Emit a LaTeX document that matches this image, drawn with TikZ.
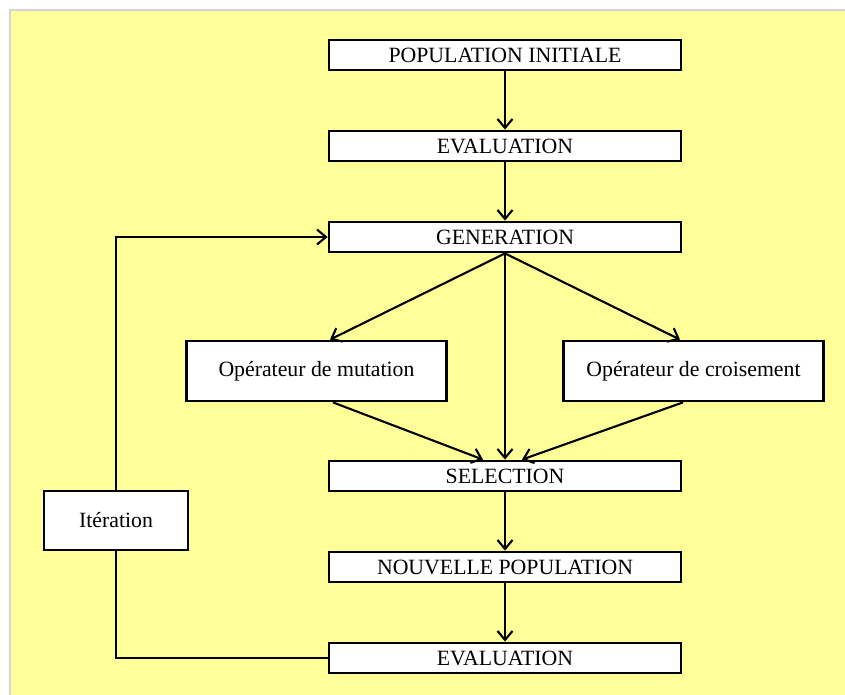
\documentclass[tikz,border=0pt]{standalone}
\usepackage{fontspec}
\setmainfont{Liberation Serif}
\usepackage{xcolor}
\usetikzlibrary{arrows.meta,positioning}
\definecolor{fondjaune}{HTML}{FFFF99}
\definecolor{cadregris}{HTML}{D4D4D8}

\begin{document}
\begin{tikzpicture}[x=0.02cm,y=-0.02cm,
  etape/.style={draw,line width=1.6pt,fill=white,minimum width=7.04cm,minimum height=0.6cm,
                inner sep=0pt,font=\fontsize{12.4}{14}\selectfont},
  oper/.style={etape,minimum width=5.2cm,minimum height=1.2cm},
  iter/.style={etape,minimum width=2.88cm,minimum height=1.18cm},
  ar/.style={-{Straight Barb[length=1.8mm,width=3mm,line width=1.2pt]},line width=1.2pt},
  trait/.style={line width=1.2pt}
]
% fond et cadre
\useasboundingbox (0,0) rectangle (845,695);
\fill[white] (0,0) rectangle (845,695);
\fill[cadregris] (9,9) rectangle (845,695);
\fill[fondjaune] (11,11) rectangle (845,695);
% colonne principale
\node[etape] (popinit) at (505,55) {POPULATION INITIALE};
\node[etape] (eval1) at (505,146) {EVALUATION};
\node[etape] (gen) at (505,237) {GENERATION};
\node[oper] (mut) at (316.5,371) {Opérateur de mutation};
\node[oper] (crois) at (693.5,371) {Opérateur de croisement};
\node[etape] (sel) at (505,476) {SELECTION};
\node[etape] (nouv) at (505,567) {NOUVELLE POPULATION};
\node[etape] (eval2) at (505,658) {EVALUATION};
\node[iter] (iter) at (116,520.5) {Itération};
\draw[ar] (popinit) -- (eval1);
\draw[ar] (eval1) -- (gen);
\draw[ar] (gen.south) -- ([xshift=0.27cm]mut.north);
\draw[ar] (gen.south) -- ([xshift=-0.27cm]crois.north);
\draw[ar] (gen) -- (sel);
\draw[ar] ([xshift=0.33cm]mut.south) -- ([xshift=-0.44cm]sel.north);
\draw[ar] ([xshift=-0.21cm]crois.south) -- ([xshift=0.34cm]sel.north);
\draw[ar] (sel) -- (nouv);
\draw[ar] (nouv) -- (eval2);
% boucle d'iteration
\draw[trait] (eval2.west) -| (iter.south);
\draw[ar] (iter.north) |- (gen.west);
\end{tikzpicture}
\end{document}
